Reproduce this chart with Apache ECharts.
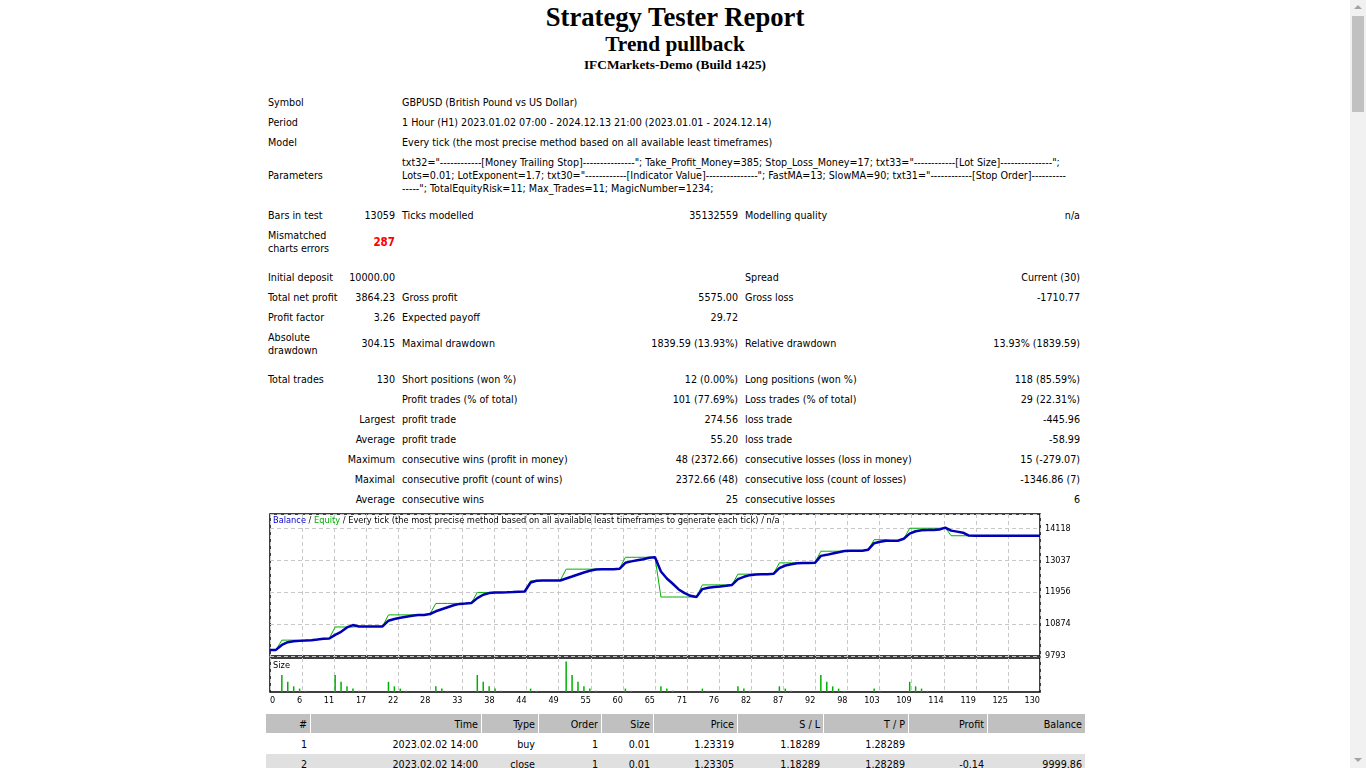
<!DOCTYPE html>
<html><head><meta charset="utf-8">
<script src="https://cdn.jsdelivr.net/npm/echarts@6/dist/echarts.min.js"></script>
<style>
html,body{margin:0;padding:0;background:#fff;overflow:hidden;width:1366px;height:768px;}
#page{position:absolute;left:0;top:0;width:1350px;height:768px;}
.t{position:absolute;white-space:nowrap;font-family:"DejaVu Sans Condensed","DejaVu Sans",sans-serif;font-size:10.67px;line-height:14px;height:14px;color:#000;}
.h{position:absolute;left:0;width:1350px;text-align:center;font-family:"Liberation Serif","Times New Roman",serif;font-weight:bold;color:#000;white-space:nowrap;}
.cell{position:absolute;}
#chart{position:absolute;left:266px;top:510px;width:820px;height:200px;}
#sb{position:absolute;left:1350px;top:0;width:16px;height:768px;background:#f1f1f1;}
#thumb{position:absolute;left:2px;top:16px;width:12px;height:96px;background:#c1c1c1;}
.arr{position:absolute;left:4px;width:0;height:0;border-left:4px solid transparent;border-right:4px solid transparent;}
</style></head><body>
<div id="page"></div>
<div id="chart"></div>
<div id="sb"><div class="arr" style="top:5px;border-bottom:4px solid #a3a3a3;"></div><div id="thumb"></div><div class="arr" style="top:758px;border-top:4px solid #a3a3a3;"></div></div>
<script>
// ---------------- chart data ----------------
const balance = [
10000,9999.86,10168,10259,10294,10305,10316,10328,10350,10373,
10385,10510,10612,10760,10840,10794,10794,10794,10794,10794,
10988,11045,11090,11124,11158,11181,11181,11215,11306,11375,
11443,11511,11557,11573,11590,11753,11866,11922,11945,11945,
11950,11956,11967,11978,12283,12339,12350,12350,12350,12350,
12418,12485,12553,12620,12677,12722,12733,12733,12733,12744,
12947,12997,13037,13071,13116,13135,12654,12418,12238,12046,
11922,11832,11790,12057,12102,12125,12147,12170,12200,12395,
12474,12530,12553,12564,12564,12575,12767,12857,12902,12930,
12940,12940,12947,13183,13217,13262,13307,13348,13359,13359,
13359,13393,13612,13658,13693,13693,13693,13761,13934,14015,
14049,14060,14060,14072,14140,14037,14003,13968,13870,13864.23,
13864.23,13864.23,13864.23,13864.23,13864.23,13864.23,13864.23,13864.23,13864.23,13864.23,
13864.23
];
const equity = [
10000,9999.86,10330,10330,10330,10330,10330,10330,10350,10373,
10385,10775,10775,10775,10775,10794,10794,10794,10794,10794,
11185,11185,11185,11185,11185,11181,11181,11215,11573,11573,
11573,11573,11573,11573,11590,11945,11945,11945,11945,11945,
11950,11956,11967,11978,12339,12339,12350,12350,12350,12350,
12733,12733,12733,12733,12733,12733,12733,12733,12733,12744,
13135,13135,13135,13135,13135,13135,11790,11790,11790,11790,
11790,11790,11790,12200,12200,12200,12200,12200,12200,12564,
12564,12564,12564,12564,12564,12575,12945,12945,12945,12945,
12945,12945,12947,13340,13340,13340,13340,13348,13359,13359,
13359,13393,13730,13730,13730,13693,13693,13761,14118,14118,
14118,14118,14118,14118,14140,13864.23,13864.23,13864.23,13864.23,13864.23,
13864.23,13864.23,13864.23,13864.23,13864.23,13864.23,13864.23,13864.23,13864.23,13864.23,
13864.23
];
const sizeTrades = [2,3,4,5,6, 11,12,13,14,15, 20,21,22,23, 28,29,30, 35,36,37,38,39, 44,45,
  50,51,52,53,54,55, 60,61, 66,67,68, 73,74, 79,80,81, 86,87,88, 93,94,95,96,97, 102,103, 108,109,110,111];
const sizeLots = [0.08,0.05,0.03,0.02,0.01, 0.08,0.05,0.03,0.02,0.01, 0.05,0.03,0.02,0.01, 0.03,0.02,0.01,
  0.08,0.05,0.03,0.02,0.01, 0.02,0.01, 0.14,0.08,0.05,0.03,0.02,0.01, 0.02,0.01, 0.03,0.02,0.01, 0.02,0.01,
  0.03,0.02,0.01, 0.03,0.02,0.01, 0.08,0.05,0.03,0.02,0.01, 0.02,0.01, 0.05,0.03,0.02,0.01];
const xTickLabels = ['0','6','11','17','22','28','33','38','44','49','55','60','65','71','76','82','87','92','98','103','109','114','119','125','130'];
const yMin = 9793, yStep = 1081.25, yMax = 14600;
const tradeCount = 130;

// ---------------- report text ----------------
const FONT = '"DejaVu Sans Condensed","DejaVu Sans",sans-serif';
const page = document.getElementById('page');
function txt(x, y, s, align, extra) {
  const d = document.createElement('div');
  d.className = 't';
  d.textContent = s;
  if (align === 'r') { d.style.left = (x - 500) + 'px'; d.style.width = '500px'; d.style.textAlign = 'right'; }
  else d.style.left = x + 'px';
  d.style.top = (y - 6.5) + 'px';
  if (extra) Object.assign(d.style, extra);
  page.appendChild(d);
  return d;
}
function head(y, size, s) {
  const d = document.createElement('div');
  d.className = 'h';
  d.textContent = s;
  d.style.fontSize = size + 'px';
  d.style.lineHeight = size + 'px';
  d.style.top = (y - size / 2) + 'px';
  page.appendChild(d);
}
head(17, 26.67, 'Strategy Tester Report');
head(44.5, 21.33, 'Trend pullback');
head(64.5, 13.33, 'IFCMarkets-Demo (Build 1425)');

const L = 268, V1 = 395, L2 = 402, V3 = 738, L4 = 745, V5 = 1080;
const rows = [
  [102, [[L,'l','Symbol'],[L2,'l','GBPUSD (British Pound vs US Dollar)']]],
  [122, [[L,'l','Period'],[L2,'l','1 Hour (H1) 2023.01.02 07:00 - 2024.12.13 21:00 (2023.01.01 - 2024.12.14)']]],
  [142, [[L,'l','Model'],[L2,'l','Every tick (the most precise method based on all available least timeframes)']]],
  [175, [[L,'l','Parameters']]],
  [162, [[L2,'l','txt32="------------[Money Trailing Stop]---------------"; Take_Profit_Money=385; Stop_Loss_Money=17; txt33="------------[Lot Size]---------------";']]],
  [175, [[L2,'l','Lots=0.01; LotExponent=1.7; txt30="------------[Indicator Value]---------------"; FastMA=13; SlowMA=90; txt31="------------[Stop Order]----------']]],
  [188, [[L2,'l','-----"; TotalEquityRisk=11; Max_Trades=11; MagicNumber=1234;']]],
  [215, [[L,'l','Bars in test'],[V1,'r','13059'],[L2,'l','Ticks modelled'],[V3,'r','35132559'],[L4,'l','Modelling quality'],[V5,'r','n/a']]],
  [235, [[L,'l','Mismatched']]],
  [248, [[L,'l','charts errors']]],
  [277, [[L,'l','Initial deposit'],[V1,'r','10000.00'],[L4,'l','Spread'],[V5,'r','Current (30)']]],
  [297, [[L,'l','Total net profit'],[V1,'r','3864.23'],[L2,'l','Gross profit'],[V3,'r','5575.00'],[L4,'l','Gross loss'],[V5,'r','-1710.77']]],
  [317, [[L,'l','Profit factor'],[V1,'r','3.26'],[L2,'l','Expected payoff'],[V3,'r','29.72']]],
  [337, [[L,'l','Absolute']]],
  [350, [[L,'l','drawdown']]],
  [343, [[V1,'r','304.15'],[L2,'l','Maximal drawdown'],[V3,'r','1839.59 (13.93%)'],[L4,'l','Relative drawdown'],[V5,'r','13.93% (1839.59)']]],
  [379, [[L,'l','Total trades'],[V1,'r','130'],[L2,'l','Short positions (won %)'],[V3,'r','12 (0.00%)'],[L4,'l','Long positions (won %)'],[V5,'r','118 (85.59%)']]],
  [399, [[L2,'l','Profit trades (% of total)'],[V3,'r','101 (77.69%)'],[L4,'l','Loss trades (% of total)'],[V5,'r','29 (22.31%)']]],
  [419, [[V1,'r','Largest'],[L2,'l','profit trade'],[V3,'r','274.56'],[L4,'l','loss trade'],[V5,'r','-445.96']]],
  [439, [[V1,'r','Average'],[L2,'l','profit trade'],[V3,'r','55.20'],[L4,'l','loss trade'],[V5,'r','-58.99']]],
  [459, [[V1,'r','Maximum'],[L2,'l','consecutive wins (profit in money)'],[V3,'r','48 (2372.66)'],[L4,'l','consecutive losses (loss in money)'],[V5,'r','15 (-279.07)']]],
  [479, [[V1,'r','Maximal'],[L2,'l','consecutive profit (count of wins)'],[V3,'r','2372.66 (48)'],[L4,'l','consecutive loss (count of losses)'],[V5,'r','-1346.86 (7)']]],
  [499, [[V1,'r','Average'],[L2,'l','consecutive wins'],[V3,'r','25'],[L4,'l','consecutive losses'],[V5,'r','6']]]
];
rows.forEach(r => r[1].forEach(c => txt(c[0], r[0], c[2], c[1])));
txt(V1, 241.5, '287', 'r', {color:'#ff0000', fontWeight:'bold', fontSize:'11.5px'});

// trades table
const colEdges = [[266,310],[311,481],[482,538],[539,601],[602,653],[654,737],[738,823],[824,908],[909,987],[988,1085]];
const tHead = ['#','Time','Type','Order','Size','Price','S / L','T / P','Profit','Balance'];
const tRows = [
  ['1','2023.02.02 14:00','buy','1','0.01','1.23319','1.18289','1.28289','',''],
  ['2','2023.02.02 14:00','close','1','0.01','1.23305','1.18289','1.28289','-0.14','9999.86']
];
function box(x, y, w, h, bg) {
  const d = document.createElement('div');
  d.className = 'cell';
  Object.assign(d.style, {left:x+'px', top:y+'px', width:w+'px', height:h+'px', background:bg});
  page.appendChild(d);
}
colEdges.forEach(e => box(e[0], 714, e[1]-e[0], 19, '#c0c0c0'));
box(266, 754, 819, 19, '#e0e0e0');
tHead.forEach((s,i) => txt(colEdges[i][1]-3, 724, s, 'r'));
tRows.forEach((r,j) => r.forEach((s,i) => txt(colEdges[i][1]-3, 744 + j*20, s, 'r')));

// ---------------- chart ----------------
const chart = echarts.init(document.getElementById('chart'), null, {renderer:'canvas'});
const xStep = tradeCount / 24;
const split = {show:true, lineStyle:{color:'#c8c8c8', width:1, type:[4,3]}};
chart.setOption({
  animation:false,
  textStyle:{fontFamily:FONT},
  title:[
    {left:7, top:6, padding:0,
     text:'{b|Balance} / {e|Equity} / Every tick (the most precise method based on all available least timeframes to generate each tick) / n/a',
     textStyle:{fontFamily:FONT, fontSize:9.2, fontWeight:'normal', color:'#000',
       rich:{b:{color:'#0000c8', fontSize:9.2, fontFamily:FONT}, e:{color:'#00b000', fontSize:9.2, fontFamily:FONT}}}},
    {left:7, top:151, padding:0, text:'Size', textStyle:{fontFamily:FONT, fontSize:9.2, fontWeight:'normal', color:'#000'}}
  ],
  grid:[
    {left:4, top:4, width:770, height:142, show:true, borderColor:'#000', borderWidth:1.5, backgroundColor:'transparent'},
    {left:4, top:148, width:770, height:34, show:true, borderColor:'#000', borderWidth:1.5, backgroundColor:'transparent'}
  ],
  xAxis:[
    {gridIndex:0, type:'value', min:0, max:tradeCount, interval:xStep, axisLine:{show:false}, axisTick:{show:false},
     axisLabel:{show:false}, splitLine:split},
    {gridIndex:1, type:'value', min:0, max:tradeCount, interval:xStep, axisLine:{show:false}, axisTick:{show:false},
     axisLabel:{show:true, fontFamily:FONT, fontSize:9, color:'#000', margin:4, align:'right', alignMinLabel:'left', alignMaxLabel:'right',
       formatter:v => { const k = Math.round(v / xStep); return Math.abs(k * xStep - v) < 0.01 && xTickLabels[k] !== undefined ? xTickLabels[k] : ''; }},
     splitLine:split}
  ],
  yAxis:[
    {gridIndex:0, type:'value', position:'right', min:yMin, max:yMax, interval:yStep, axisLine:{show:false}, axisTick:{show:false},
     axisLabel:{show:true, fontFamily:FONT, fontSize:9, color:'#000', margin:5, showMaxLabel:false,
       formatter:v => (v > yMax - 1 ? '' : String(Math.round(v)))},
     splitLine:split},
    {gridIndex:1, type:'value', min:0.005, max:0.155, show:false, splitLine:{show:false}}
  ],
  series:[
    {name:'Equity', type:'line', xAxisIndex:0, yAxisIndex:0, data:equity.map((v,i)=>[i,v]), showSymbol:false, symbol:'none',
     lineStyle:{color:'#00b000', width:1}, itemStyle:{color:'#00b000'}, z:2},
    {name:'Balance', type:'line', xAxisIndex:0, yAxisIndex:0, data:balance.map((v,i)=>[i,v]), showSymbol:false, symbol:'none',
     lineStyle:{color:'#0000b4', width:2.5}, itemStyle:{color:'#0000b4'}, z:3},
    {name:'Size', type:'bar', xAxisIndex:1, yAxisIndex:1, data:sizeTrades.map((t,i)=>[t,sizeLots[i]]), barWidth:1.5,
     itemStyle:{color:'#00b000'}}
  ]
});
</script>
</body></html>
